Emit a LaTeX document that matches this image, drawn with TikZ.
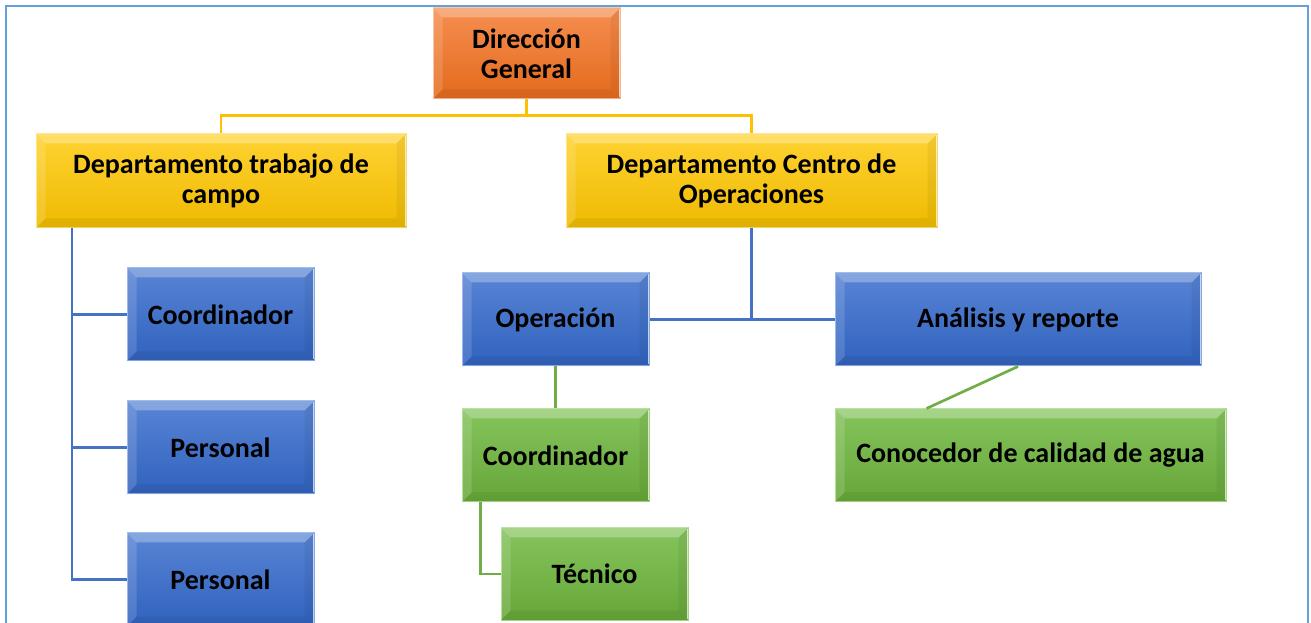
\documentclass[tikz,border=0pt]{standalone}
\usepackage{fontspec}
\setmainfont{Carlito}
\usetikzlibrary{calc}

\definecolor{orgtop}{RGB}{245,142,80}
\definecolor{orgbot}{RGB}{228,106,28}
\definecolor{orgedge}{RGB}{250,190,150}
\definecolor{yeltop}{RGB}{255,210,50}
\definecolor{yelbot}{RGB}{238,186,0}
\definecolor{yeledge}{RGB}{255,225,120}
\definecolor{blutop}{RGB}{88,132,212}
\definecolor{blubot}{RGB}{48,98,190}
\definecolor{bluedge}{RGB}{140,175,235}
\definecolor{grntop}{RGB}{132,196,92}
\definecolor{grnbot}{RGB}{102,166,56}
\definecolor{grnedge}{RGB}{170,220,140}
\definecolor{yline}{RGB}{255,192,0}
\definecolor{bline}{RGB}{68,114,196}
\definecolor{gline}{RGB}{112,173,71}
\definecolor{frameblue}{RGB}{100,160,220}

\tikzset{every picture/.style={line width=0.75pt}}

\begin{document}
\begin{tikzpicture}[x=0.75pt,y=0.75pt,yscale=-1,xscale=1,
  box/.style={draw,inner sep=0pt,align=center,font=\fontsize{21}{22.5}\selectfont\bfseries},
  orgbox/.style={box,draw=orgedge,top color=orgtop,bottom color=orgbot},
  yelbox/.style={box,draw=yeledge,top color=yeltop,bottom color=yelbot},
  blubox/.style={box,draw=bluedge,top color=blutop,bottom color=blubot},
  grnbox/.style={box,draw=grnedge,top color=grntop,bottom color=grnbot},
  small/.style={minimum width=140.25pt,minimum height=69.75pt},
  conn/.style={line width=2pt}]
\useasboundingbox (0,0) rectangle (1311,623);

%Frame
\draw [frameblue,line width=2pt] (6,630) -- (6,6) -- (1308,6) -- (1308,630);

% Text Nodes
\draw (526.5,53.5) node (dir) [orgbox,minimum width=140.25pt,minimum height=68.25pt] {Dirección\\General};
\draw (221,181) node (dtc) [yelbox,minimum width=277.5pt,minimum height=70.5pt] {Departamento trabajo de\\campo};
\draw (751.5,181) node (dco) [yelbox,minimum width=278.25pt,minimum height=70.5pt] {Departamento Centro de\\Operaciones};
\draw (220.5,314.5) node (coord1) [blubox,small] {Coordinador};
\draw (220.5,447.5) node (pers1) [blubox,small] {Personal};
\draw (220.5,579.5) node (pers2) [blubox,small] {Personal};
\draw (555.5,319.5) node (oper) [blubox,small] {Operación};
\draw (1018,319.5) node (anal) [blubox,small,minimum width=274.5pt] {Análisis y reporte};
\draw (555.5,455.5) node (coord2) [grnbox,small] {Coordinador};
\draw (594.5,574) node (tec) [grnbox,small,minimum height=69pt] {Técnico};
\draw (1030.5,455.5) node (cono) [grnbox,small,minimum width=293.25pt] {Conocedor de calidad de agua};

%Bevels
\foreach \n in {dir,dtc,dco,coord1,pers1,pers2,oper,anal,coord2,tec,cono}{
  \fill [white,opacity=.28] (\n.north west) -- (\n.north east) -- ($(\n.north east)+(-10,10)$) -- ($(\n.north west)+(10,10)$) -- cycle;
  \fill [white,opacity=.14] (\n.north west) -- ($(\n.north west)+(10,10)$) -- ($(\n.south west)+(10,-10)$) -- (\n.south west) -- cycle;
  \fill [black,opacity=.06] (\n.south west) -- ($(\n.south west)+(10,-10)$) -- ($(\n.south east)+(-10,-10)$) -- (\n.south east) -- cycle;
  \fill [black,opacity=.05] (\n.north east) -- ($(\n.north east)+(-10,10)$) -- ($(\n.south east)+(-10,-10)$) -- (\n.south east) -- cycle;
  \draw [white,opacity=.7,line width=1pt] ($(\n.north east)+(-1,2)$) -- ($(\n.south east)+(-1,-2)$);
}

%Connectors
\coordinate (ltop) at (72,228);
\draw [conn,yline] (dir.south) -- ++(0,17);
\draw [conn,yline] (dtc.north) -- ++(0,-18) -| (dco.north);
\draw [conn,bline] (ltop) |- (coord1.west);
\draw [conn,bline] (ltop) |- (pers1.west);
\draw [conn,bline] (ltop) |- (pers2.west);
\draw [conn,bline] (dco.south) -- (dco.south |- oper.east);
\draw [conn,bline] (oper.east) -- (anal.west);
\draw [conn,gline] (oper.south) -- (coord2.north);
\draw [conn,gline] ([xshift=14.25pt]coord2.south west) |- (tec.west);
\draw [conn,gline] (anal.south) -- ([xshift=69pt]cono.north west);

\end{tikzpicture}
\end{document}
